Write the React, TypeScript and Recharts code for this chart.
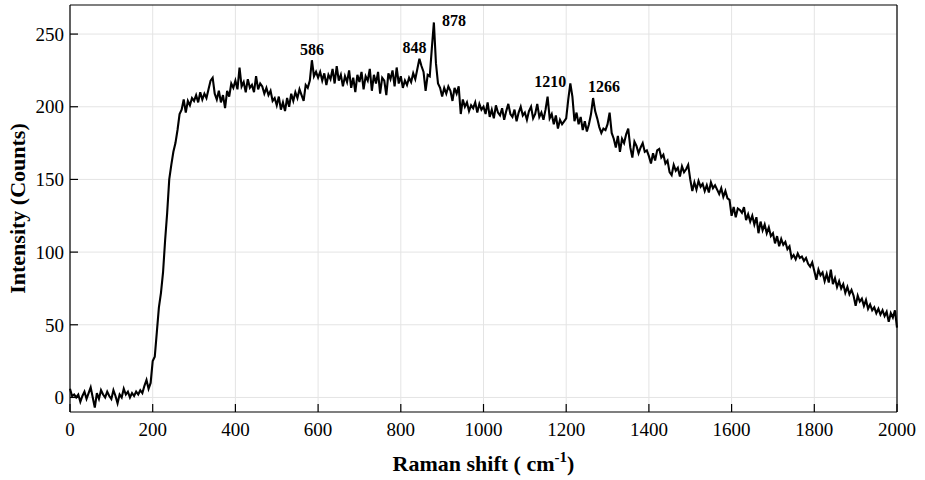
import { LineChart, Line, XAxis, YAxis, CartesianGrid, LabelList } from "recharts";

const STEP = 5; // cm-1 between samples

// intensity, one row per 100 cm-1 (0 .. 2000)
const intensity: number[] = [
  6, 1, 2, 0, 2, -3, 1, 4, -1, 3, 7, 0, -7, 3, -1, 5, 2, 0, 4, 1,
  -1, 5, 1, -4, 2, 0, 6, 2, 4, 0, 3, 1, 4, 2, 5, 3, 8, 12, 6, 10,
  25, 28, 45, 62, 72, 86, 108, 127, 150, 160, 169, 175, 184, 195, 198, 205, 196, 204, 201, 206,
  204, 208, 203, 210, 205, 209, 206, 212, 218, 220, 209, 205, 211, 203, 208, 199, 211, 207, 216, 213,
  218, 212, 227, 214, 217, 210, 219, 213, 215, 210, 221, 212, 216, 214, 209, 213, 208, 211, 204, 206,
  201, 207, 198, 203, 197, 206, 200, 209, 204, 210, 206, 212, 208, 204, 215, 213, 218, 232, 221, 224,
  220, 224, 218, 223, 215, 222, 219, 226, 216, 228, 218, 222, 214, 221, 217, 225, 213, 220, 210, 222,
  217, 224, 212, 221, 218, 226, 211, 222, 216, 224, 209, 220, 218, 208, 223, 219, 225, 214, 227, 216,
  221, 213, 218, 215, 220, 217, 223, 219, 226, 233, 228, 224, 211, 222, 221, 240, 258, 230, 216, 213,
  207, 213, 209, 214, 211, 204, 213, 209, 214, 195, 205, 200, 203, 197, 201, 199, 203, 196, 202, 198,
  200, 195, 203, 193, 198, 192, 201, 196, 194, 199, 191, 197, 202, 195, 193, 198, 190, 196, 200, 194,
  196, 191, 197, 200, 192, 195, 202, 193, 196, 191, 198, 207, 192, 195, 188, 194, 185, 191, 188, 190,
  192, 205, 216, 207, 190, 196, 188, 193, 184, 190, 183, 188, 195, 206, 197, 192, 186, 182, 185, 184,
  188, 196, 182, 178, 172, 180, 169, 178, 175, 181, 185, 172, 165, 176, 173, 168, 172, 175, 169, 170,
  166, 161, 168, 163, 170, 171, 165, 167, 161, 163, 155, 153, 160, 156, 158, 152, 159, 155, 157, 160,
  150, 142, 148, 143, 149, 145, 147, 142, 146, 141, 148, 144, 146, 143, 140, 144, 138, 142, 137, 136,
  125, 131, 124, 130, 129, 127, 131, 122, 126, 121, 125, 119, 124, 113, 121, 115, 119, 113, 117, 111,
  113, 106, 111, 104, 109, 105, 107, 102, 104, 96, 98, 95, 99, 96, 97, 94, 96, 92, 90, 93,
  87, 81, 88, 84, 86, 80, 85, 79, 88, 78, 82, 76, 80, 75, 78, 72, 76, 71, 74, 70,
  63, 70, 66, 68, 63, 67, 61, 64, 60, 62, 58, 61, 57, 60, 56, 59, 52, 58, 55, 60,
  48,
];

const ramanShift = intensity.map((_, i) => i * STEP);

const xTicks = [0, 200, 400, 600, 800, 1000, 1200, 1400, 1600, 1800, 2000];
const yTicks = [0, 50, 100, 150, 200, 250];

const peakShift = [585, 845, 880, 1210, 1265];
const peakText = ["586", "848", "878", "1210", "1266"];

const data = ramanShift.map((x, i) => ({ x, y: intensity[i] }));

const FONT = "'Liberation Serif', 'Times New Roman', serif";

// where each peak label sits relative to its point
const peakPlace: { anchor: "start" | "middle" | "end"; dx: number; dy: number }[] = [
  { anchor: "middle", dx: 0, dy: -5 },
  { anchor: "end", dx: 7, dy: -6 },
  { anchor: "start", dx: 8, dy: 4 },
  { anchor: "end", dx: -4, dy: 4 },
  { anchor: "start", dx: -5, dy: -6 },
];

function PeakLabel(props: any) {
  const { x, y, value } = props;
  const k = peakShift.indexOf(Number(value));
  if (k < 0) return null;
  const p = peakPlace[k];
  return (
    <text x={x + p.dx} y={y + p.dy} textAnchor={p.anchor} fontFamily={FONT} fontWeight="bold" fontSize={16} fill="#000">
      {peakText[k]}
    </text>
  );
}

function XTick(props: any) {
  const { x, y, payload } = props;
  return (
    <text x={x} y={y} dy="0.71em" textAnchor="middle" fontFamily={FONT} fontSize={19} fill="#000">
      {payload.value}
    </text>
  );
}

function YTick(props: any) {
  const { x, y, payload } = props;
  return (
    <text x={x} y={y} dy="0.355em" textAnchor="end" fontFamily={FONT} fontSize={19} fill="#000">
      {payload.value}
    </text>
  );
}

function XTitle(props: any) {
  const vb = props.viewBox || { x: 70, y: 412, width: 827 };
  return (
    <text x={vb.x + vb.width / 2} y={vb.y + 59} textAnchor="middle" fontFamily={FONT} fontWeight="bold" fontSize={22} fill="#000">
      Raman shift ( cm
      <tspan dy={-9} fontSize={15}>-1</tspan>
      <tspan dy={9}>)</tspan>
    </text>
  );
}

function YTitle(props: any) {
  const vb = props.viewBox || { x: 0, y: 5, height: 407 };
  const cx = 25;
  const cy = vb.y + vb.height / 2;
  return (
    <text x={cx} y={cy} transform={`rotate(-90 ${cx} ${cy})`} textAnchor="middle" fontFamily={FONT} fontWeight="bold" fontSize={22} fill="#000">
      Intensity (Counts)
    </text>
  );
}

const axisLine = { stroke: "#000", strokeWidth: 1.2 };

export default function App() {
  return (
    <div style={{ position: "absolute", left: 0, top: 0, width: 925, height: 480, background: "#fff", fontFamily: FONT }}>
      <LineChart width={925} height={480} data={data} margin={{ top: 4, right: 27, left: 0, bottom: 0 }}>
        <CartesianGrid stroke="#e4e4e4" strokeWidth={1} verticalValues={xTicks} horizontalValues={yTicks} />
        <XAxis
          dataKey="x"
          type="number"
          domain={[0, 2000]}
          ticks={xTicks}
          height={68}
          tickSize={-8}
          tickMargin={19}
          tick={<XTick />}
          axisLine={axisLine}
          tickLine={axisLine}
          label={{ content: XTitle }}
        />
        <XAxis
          xAxisId="top"
          dataKey="x"
          orientation="top"
          type="number"
          domain={[0, 2000]}
          ticks={xTicks}
          height={1}
          tickSize={-8}
          tick={false}
          axisLine={axisLine}
          tickLine={axisLine}
        />
        <YAxis
          type="number"
          domain={[-10, 270]}
          ticks={yTicks}
          width={70}
          tickSize={-8}
          tickMargin={14}
          tick={<YTick />}
          axisLine={axisLine}
          tickLine={axisLine}
          label={{ content: YTitle }}
        />
        <YAxis
          yAxisId="right"
          orientation="right"
          type="number"
          domain={[-10, 270]}
          ticks={yTicks}
          width={1}
          tickSize={-8}
          tick={false}
          axisLine={axisLine}
          tickLine={axisLine}
        />
        <Line
          xAxisId="top"
          yAxisId="right"
          type="linear"
          dataKey="y"
          stroke="none"
          dot={false}
          activeDot={false}
          isAnimationActive={false}
        />
        <Line type="linear" dataKey="y" stroke="#000" strokeWidth={2.1} dot={false} isAnimationActive={false}>
          <LabelList dataKey="x" content={PeakLabel} />
        </Line>
      </LineChart>
    </div>
  );
}
